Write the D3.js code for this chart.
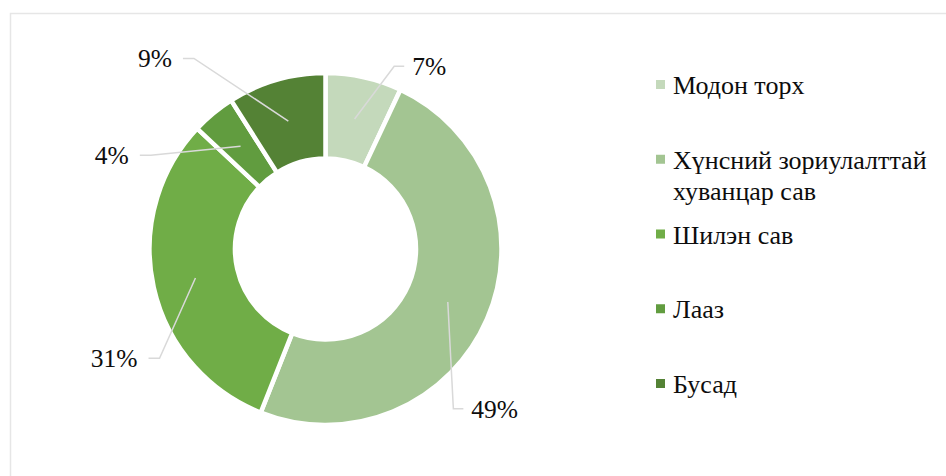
<!DOCTYPE html>
<html>
<head>
<meta charset="utf-8">
<script src="https://cdn.jsdelivr.net/npm/d3@7"></script>
<style>
  html, body { margin: 0; padding: 0; background: #fff; }
  svg { display: block; }
  .serif { font-family: "Liberation Serif", "DejaVu Serif", "Times New Roman", Times, serif; }
</style>
</head>
<body>
<svg id="chart" width="946" height="476"></svg>
<script>
// Packaging types and their shares (%)
const categories = ["Модон торх", "Хүнсний зориулалттай хуванцар сав", "Шилэн сав", "Лааз", "Бусад"];
const shares = [7, 49, 31, 4, 9];
const percentLabels = ["7%", "49%", "31%", "4%", "9%"];
const colors = ["#c4d9bb", "#a3c592", "#70ad47", "#619c3f", "#548235"];

// Where each percentage label sits: polar position (degrees clockwise from 12 o'clock, radius)
const labelPlacement = [
  { angle: 23.3, radius: 199 },
  { angle: 139.2, radius: 211 },
  { angle: 238.3, radius: 208 },
  { angle: 296.8, radius: 208 },
  { angle: 323.2, radius: 238 }
];

const svg = d3.select("#chart");
const W = 946, H = 476;

// light chart frame
svg.append("rect")
  .attr("x", 10.5).attr("y", 13.5)
  .attr("width", W + 20).attr("height", H + 20)
  .attr("fill", "none").attr("stroke", "#e6e6e6").attr("stroke-width", 1.5);

const cx = 325.5, cy = 249;
const outerR = 176, innerR = 90.5;

const pie = d3.pie().sort(null).value(d => d)(shares);
const arc = d3.arc().innerRadius(innerR).outerRadius(outerR);

const g = svg.append("g").attr("transform", `translate(${cx},${cy})`);

g.selectAll("path.slice")
  .data(pie)
  .join("path")
  .attr("class", "slice")
  .attr("d", arc)
  .attr("fill", (d, i) => colors[i])
  .attr("stroke", "#fff")
  .attr("stroke-width", 4.5)
  .attr("stroke-linejoin", "miter");

// leader lines and percentage labels
const polar = (a, r) => {
  const t = a * Math.PI / 180;
  return [r * Math.sin(t), -r * Math.cos(t)];
};

pie.forEach((d, i) => {
  const start = arc.centroid(d);
  const p = labelPlacement[i];
  const end = polar(p.angle, p.radius);
  const right = end[0] > 0;
  const elbow = [end[0] + (right ? -10 : 11), end[1]];

  g.append("polyline")
    .attr("points", [start, elbow, end].map(q => q.join(",")).join(" "))
    .attr("fill", "none")
    .attr("stroke", "#d9d9d9")
    .attr("stroke-width", 1.5);

  g.append("text")
    .attr("class", "serif")
    .attr("x", end[0] + (right ? 8 : -11))
    .attr("y", end[1])
    .attr("dy", "0.35em")
    .attr("text-anchor", right ? "start" : "end")
    .style("font-size", "25.5px")
    .attr("fill", "#0d0d0d")
    .text(percentLabels[i]);
});

// legend
const legend = svg.append("g").attr("transform", "translate(656,0)");
const rowY = d3.scalePoint().domain(d3.range(categories.length)).range([84.5, 383.5]);
const maxTextW = 272;

categories.forEach((name, i) => {
  const y = rowY(i);
  legend.append("rect")
    .attr("x", 0).attr("y", y - 4.5)
    .attr("width", 9).attr("height", 9)
    .attr("fill", colors[i]);

  const text = legend.append("text")
    .attr("class", "serif")
    .attr("x", 17).attr("y", y + 9.5)
    .style("font-size", "26px")
    .attr("fill", "#0d0d0d");

  // wrap long names onto several lines
  const words = name.split(" ");
  let line = [];
  let tspan = text.append("tspan").attr("x", 17).attr("dy", 0);
  words.forEach(w => {
    line.push(w);
    tspan.text(line.join(" "));
    if (tspan.node().getComputedTextLength() > maxTextW && line.length > 1) {
      line.pop();
      tspan.text(line.join(" "));
      line = [w];
      tspan = text.append("tspan").attr("x", 17).attr("dy", 31).text(w);
    }
  });
});
</script>
</body>
</html>
